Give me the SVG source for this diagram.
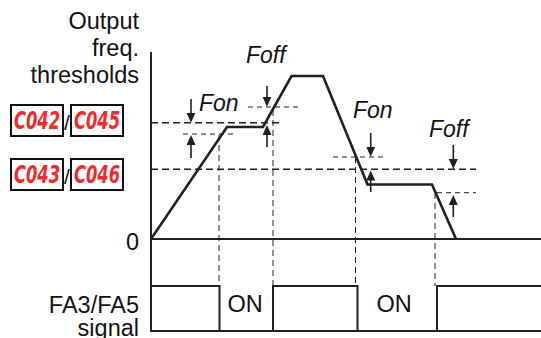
<svg xmlns="http://www.w3.org/2000/svg" width="541" height="338" viewBox="0 0 541 338">
<style>
text{font-family:"Liberation Sans",Arial,sans-serif;fill:#111}
.lbl{font-size:23.5px}
.it{font-size:23px;font-style:italic}
.sl{font-size:21px}
.axis{stroke:#231f20;stroke-width:2;fill:none}
.trace{stroke:#231f20;stroke-width:2.6;fill:none;stroke-linejoin:miter}
.thr{stroke:#231f20;stroke-width:1.5;stroke-dasharray:7 4;fill:none}
.ref{stroke:#231f20;stroke-width:1;stroke-dasharray:5 4;fill:none}
.vd{stroke:#231f20;stroke-width:1;stroke-dasharray:6 4;fill:none}
.arr{stroke:#231f20;stroke-width:1.6;fill:none;marker-end:url(#ah)}
.led{fill:#fff;stroke:#111;stroke-width:2}
.ledt{font-family:"DejaVu Sans Condensed","DejaVu Sans",sans-serif;font-weight:bold;font-style:oblique;font-size:24px;fill:#ee2a2a}
</style>
<defs>
<marker id="ah" markerUnits="userSpaceOnUse" markerWidth="11" markerHeight="10" refX="7" refY="4.5" orient="auto">
<path d="M0,0 L10,4.5 L0,9 z" fill="#231f20"/>
</marker>
</defs>
<g id="labels">
<text class="lbl" x="139" y="29" text-anchor="end">Output</text>
<text class="lbl" x="139" y="56" text-anchor="end">freq.</text>
<text class="lbl" x="139" y="83" text-anchor="end">thresholds</text>
<text class="lbl" x="139" y="250" text-anchor="end">0</text>
<text class="lbl" x="139" y="313" text-anchor="end">FA3/FA5</text>
<text class="lbl" x="139" y="336" text-anchor="end">signal</text>
</g>
<g id="led-c042-c045">
<rect class="led" x="11" y="105" width="52" height="31"/>
<text class="ledt" x="14" y="129" textLength="46" lengthAdjust="spacingAndGlyphs">C042</text>
<text class="sl" x="67" y="130" text-anchor="middle">/</text>
<rect class="led" x="71" y="105" width="52" height="31"/>
<text class="ledt" x="74" y="129" textLength="46" lengthAdjust="spacingAndGlyphs">C045</text>
</g>
<g id="led-c043-c046">
<rect class="led" x="11" y="159" width="52" height="31"/>
<text class="ledt" x="14" y="183" textLength="46" lengthAdjust="spacingAndGlyphs">C043</text>
<text class="sl" x="67" y="184" text-anchor="middle">/</text>
<rect class="led" x="71" y="159" width="52" height="31"/>
<text class="ledt" x="74" y="183" textLength="46" lengthAdjust="spacingAndGlyphs">C046</text>
</g>
<g id="axes">
<path class="axis" d="M151,52 V331 H541"/>
<path class="axis" d="M151,239 H541"/>
</g>
<g id="thresholds">
<path class="thr" d="M151,122.7 H280"/>
<path class="thr" d="M151,169.3 H476"/>
<path class="ref" d="M183,134 H234"/>
<path class="ref" d="M248,107 H299"/>
<path class="ref" d="M333,157 H385"/>
<path class="ref" d="M437,192.7 H476"/>
</g>
<g id="connectors">
<path class="vd" d="M219,135 V286"/>
<path class="vd" d="M273,110 V286"/>
<path class="vd" d="M355.5,157 V286"/>
<path class="vd" d="M435,193 V286"/>
<path class="arr" d="M191,99 V119.7"/>
<path class="arr" d="M267,86 V103.7"/>
<path class="arr" d="M370.7,133 V153.7"/>
<path class="arr" d="M453.3,145 V166"/>
<path class="arr" d="M191,158 V138"/>
<path class="arr" d="M267,147 V128"/>
<path class="arr" d="M370.7,192 V173.5"/>
<path class="arr" d="M453.3,217 V198"/>
</g>
<g id="trace">
<path class="trace" d="M151,239 L227,127 H263 L291.5,76 H323 L367.5,184.5 H432 L456,239"/>
</g>
<g id="signal">
<path class="axis" d="M151,286 H219.5 V331"/>
<path class="axis" d="M273,331 V286 H357.5 V331"/>
<path class="axis" d="M437,331 V286 H541"/>
<text class="lbl" x="245" y="312" text-anchor="middle">ON</text>
<text class="lbl" x="394" y="312" text-anchor="middle">ON</text>
</g>
<g id="flabels">
<text class="it" x="199" y="111">Fon</text>
<text class="it" x="246" y="63">Foff</text>
<text class="it" x="353" y="118">Fon</text>
<text class="it" x="429" y="137">Foff</text>
</g>
</svg>
